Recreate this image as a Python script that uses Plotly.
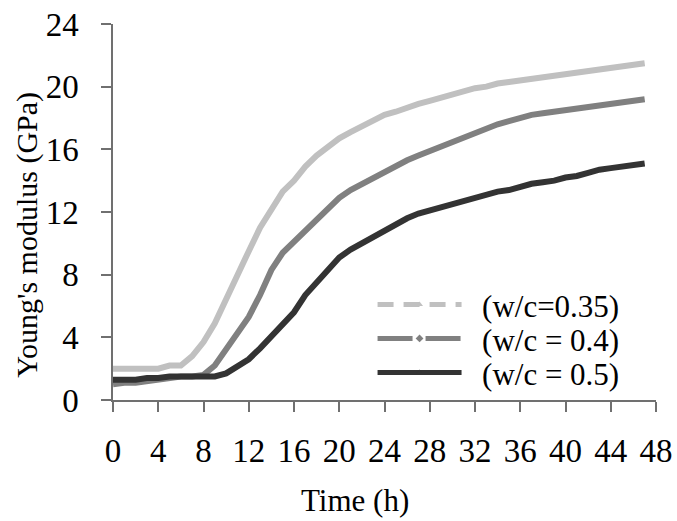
import plotly.graph_objects as go

hours = list(range(0, 48))

e_035 = [2.0, 2.0, 2.0, 2.0, 2.0, 2.2, 2.2, 2.8, 3.7, 4.9, 6.5, 8.0, 9.5, 11.0, 12.2, 13.3,
         14.0, 14.9, 15.6, 16.2, 16.7, 17.1, 17.5, 17.9, 18.2, 18.4, 18.7, 18.9, 19.1, 19.3,
         19.5, 19.7, 19.9, 20.0, 20.2, 20.3, 20.4, 20.5, 20.6, 20.7, 20.8, 20.9, 21.0, 21.1,
         21.2, 21.3, 21.4, 21.5]

e_040 = [1.0, 1.1, 1.1, 1.2, 1.3, 1.4, 1.5, 1.5, 1.6, 2.2, 3.2, 4.3, 5.3, 6.7, 8.3, 9.4,
         10.1, 10.9, 11.6, 12.3, 12.9, 13.4, 13.8, 14.2, 14.6, 15.0, 15.3, 15.6, 15.9, 16.2,
         16.5, 16.8, 17.0, 17.3, 17.6, 17.8, 18.0, 18.2, 18.3, 18.4, 18.5, 18.6, 18.7, 18.8,
         18.9, 19.0, 19.1, 19.2]

e_050 = [1.3, 1.3, 1.3, 1.4, 1.4, 1.5, 1.5, 1.5, 1.5, 1.5, 1.7, 2.1, 2.6, 3.3, 4.1, 4.9,
         5.6, 6.7, 7.5, 8.3, 9.1, 9.6, 10.0, 10.4, 10.9, 11.3, 11.6, 11.9, 12.1, 12.3,
         12.5, 12.7, 12.9, 13.1, 13.3, 13.4, 13.6, 13.8, 13.9, 14.0, 14.2, 14.3, 14.5, 14.7,
         14.8, 14.9, 15.0, 15.1]

names = ["(w/c=0.35)", "(w/c = 0.4)", "(w/c = 0.5)"]
colors = ["#c0c0c0", "#808080", "#333333"]
series = [e_035, e_040, e_050]
dashes = ["16px,10px", "35px,13px", "solid"]
symbols = ["triangle-up", "diamond", "triangle-up"]
legend_ids = ["legend", "legend2", "legend3"]
legend_y = [0.2533, 0.1627, 0.072]

font = "Liberation Serif, Times New Roman, serif"
NB = "\u00a0\u00a0"

fig = go.Figure()
for vals, col in zip(series, colors):
    fig.add_trace(go.Scatter(x=hours, y=vals, mode="lines", showlegend=False,
                             line=dict(color=col, width=6), hoverinfo="skip"))

for name, col, d, s, lid in zip(names, colors, dashes, symbols, legend_ids):
    fig.add_trace(go.Scatter(x=[None], y=[None], mode="lines+markers", name=NB + name,
                             legend=lid,
                             line=dict(color=col, width=5, dash=d),
                             marker=dict(symbol=s, size=6, color=col)))

legend_common = dict(x=0.478, xanchor="left", yanchor="middle",
                     bgcolor="rgba(0,0,0,0)", borderwidth=0,
                     font=dict(size=31, family=font, color="black"),
                     itemwidth=84)

fig.update_layout(
    width=677, height=521,
    margin=dict(l=113, r=21, t=24, b=121, autoexpand=False),
    paper_bgcolor="white", plot_bgcolor="white",
    font=dict(family=font, size=33, color="black"),
    showlegend=True,
    legend=dict(y=legend_y[0], **legend_common),
    legend2=dict(y=legend_y[1], **legend_common),
    legend3=dict(y=legend_y[2], **legend_common),
    annotations=[
        dict(text="Time (h)", xref="paper", yref="paper", x=0.4457, y=-0.267,
             xanchor="center", yanchor="middle", showarrow=False,
             font=dict(size=31, family=font, color="black")),
        dict(text="Young's modulus (GPa)", xref="paper", yref="paper", x=-0.160, y=0.44,
             xanchor="center", yanchor="middle", textangle=-90, showarrow=False,
             font=dict(size=30, family=font, color="black")),
    ],
)
fig.update_xaxes(range=[0, 48], tickvals=list(range(0, 49, 4)), showgrid=False,
                 zeroline=False, showline=True, linecolor="#707070", linewidth=1.5,
                 ticks="outside", ticklen=10, tickcolor="#707070", tickwidth=1.5,
                 automargin=False, ticklabelstandoff=11,
                 tickfont=dict(size=33, family=font, color="black"))
fig.update_yaxes(range=[0, 24], tickvals=list(range(0, 25, 4)), showgrid=False,
                 zeroline=False, showline=True, linecolor="#707070", linewidth=1.5,
                 ticks="outside", ticklen=10, tickcolor="#707070", tickwidth=1.5,
                 automargin=False, ticklabelstandoff=16,
                 tickfont=dict(size=33, family=font, color="black"))

fig.write_html("out.html", config={"displayModeBar": False},
               post_script="document.body.style.margin='0';")
